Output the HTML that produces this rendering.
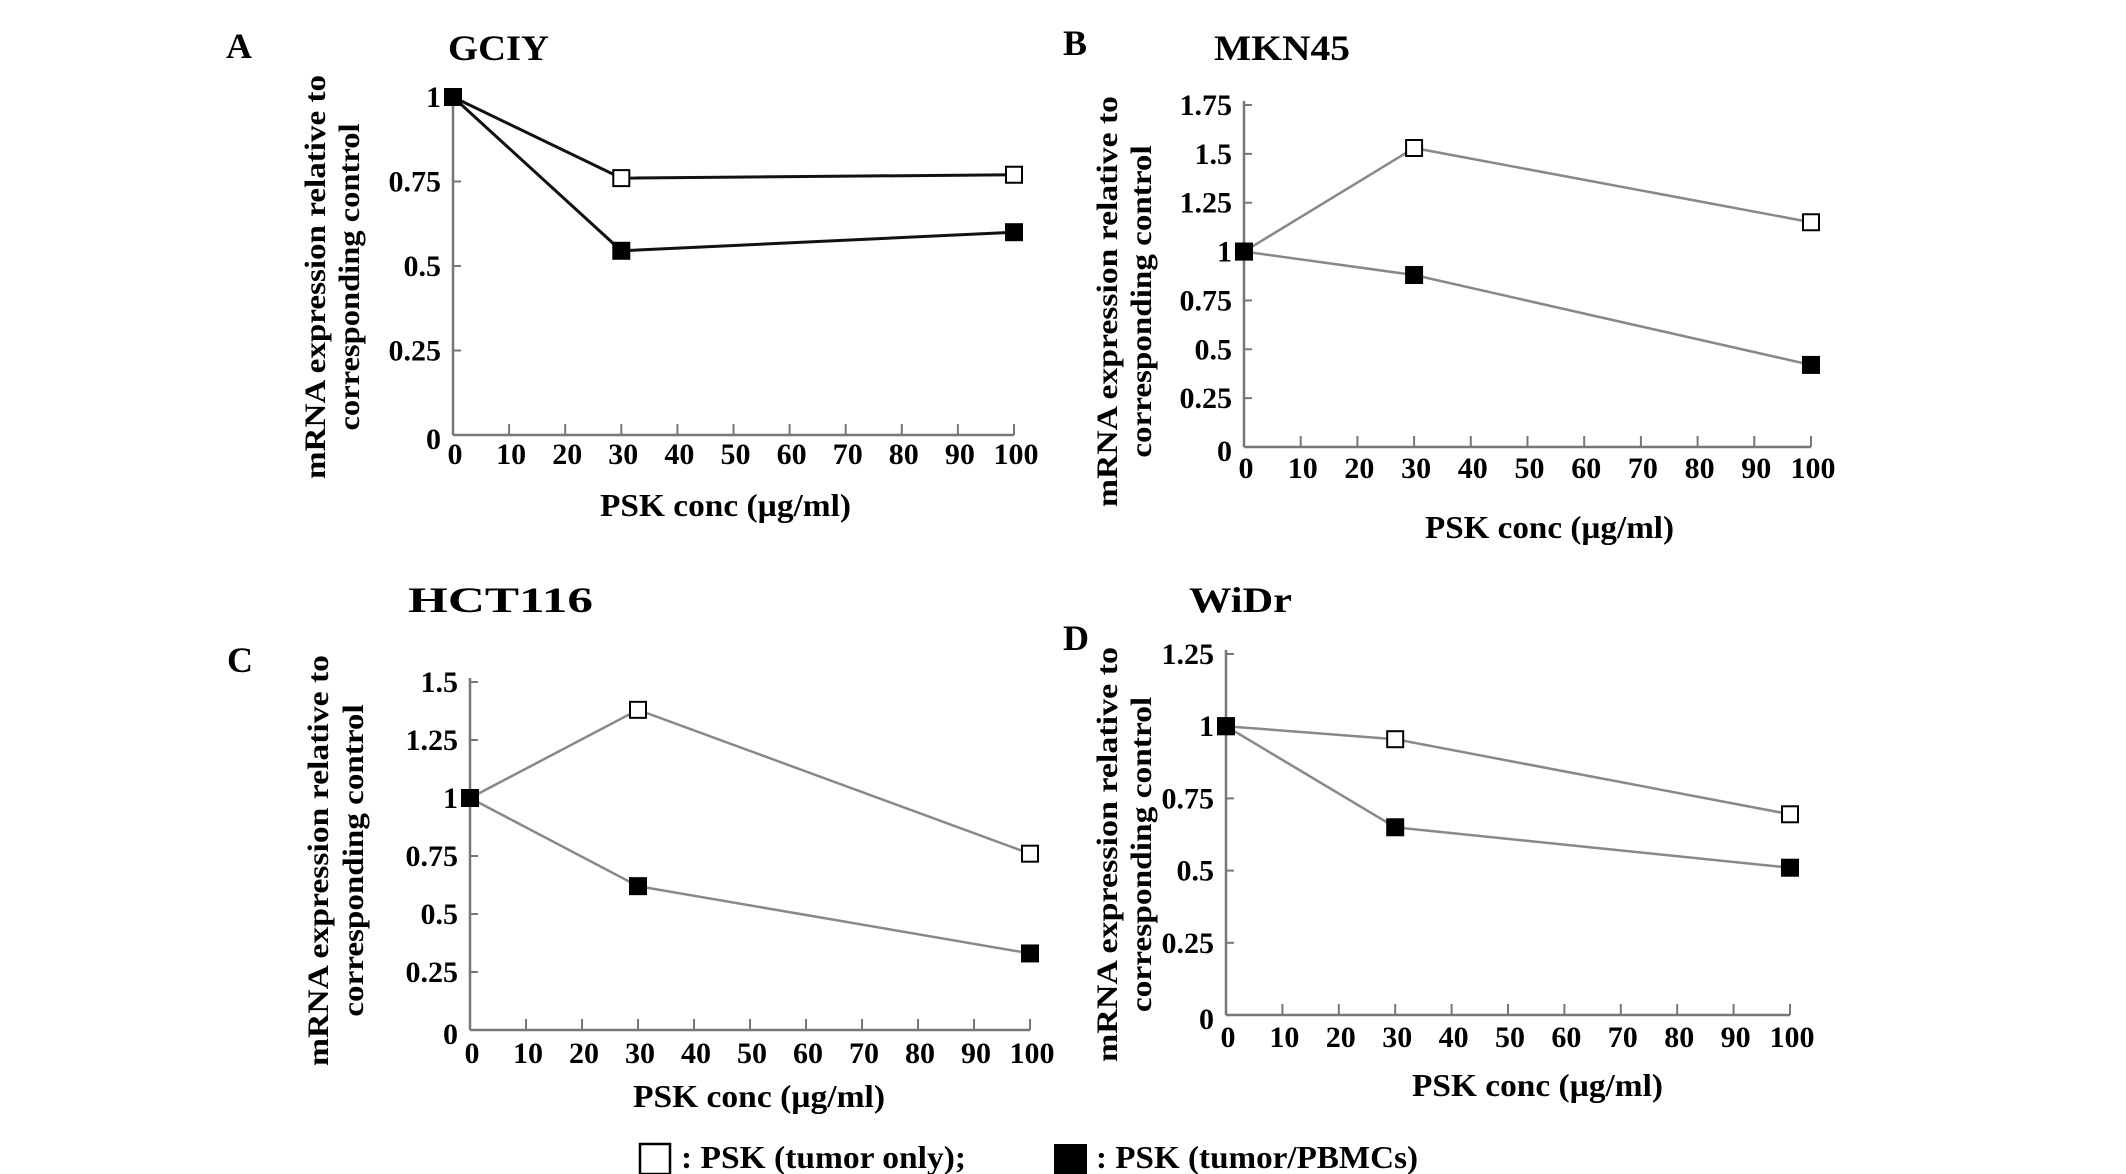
<!DOCTYPE html>
<html><head><meta charset="utf-8"><style>
html,body{margin:0;padding:0;background:#fff;}
svg{display:block;font-family:"Liberation Serif",serif;font-weight:bold;}
</style></head><body>
<svg id="fig" width="2126" height="1174" viewBox="0 0 2126 1174" xmlns="http://www.w3.org/2000/svg">
<rect width="2126" height="1174" fill="#fff"/>
<g>
  <rect x="640" y="1144" width="30" height="30" fill="#fff" stroke="#000" stroke-width="2.5"/>
  <text x="681" y="1168" font-size="32" textLength="285" lengthAdjust="spacingAndGlyphs">: PSK (tumor only);</text>
  <rect x="1054" y="1144" width="33" height="30" fill="#000"/>
  <text x="1096" y="1168" font-size="32" textLength="322" lengthAdjust="spacingAndGlyphs">: PSK (tumor/PBMCs)</text>
</g>
</svg>
<script>
const xCats = [0, 30, 100];
const xTickLabels = ["0","10","20","30","40","50","60","70","80","90","100"];
const openA = [1, 0.76, 0.77];
const filledA = [1, 0.545, 0.60];
const openB = [1, 1.53, 1.15];
const filledB = [1, 0.88, 0.42];
const openC = [1, 1.38, 0.76];
const filledC = [1, 0.62, 0.33];
const openD = [1, 0.955, 0.695];
const filledD = [1, 0.65, 0.51];
const yTicksA = [0, 0.25, 0.5, 0.75, 1];
const yTicksB = [0, 0.25, 0.5, 0.75, 1, 1.25, 1.5, 1.75];
const yTicksC = [0, 0.25, 0.5, 0.75, 1, 1.25, 1.5];
const yTicksD = [0, 0.25, 0.5, 0.75, 1, 1.25];

const NS = "http://www.w3.org/2000/svg";
const svg = document.getElementById('fig');
function mk(tag, attrs, parent) {
  const e = document.createElementNS(NS, tag);
  for (const k in attrs) e.setAttribute(k, attrs[k]);
  parent.appendChild(e);
  return e;
}
const panels = [
  {id:'a', letter:'A', lx:226, ly:58, title:'GCIY', tx:448, ty:60, tw:101, ax:453, ax100:1014, yTop:97, yBot:435, yMax:1, ticks:yTicksA, open:openA, filled:filledA, lineCol:'#111', lw:3, tlb:464, xtx:600, xtw:251, xty:516, yt1:315, yt2:349, ytTop:75, ytBot:479},
  {id:'b', letter:'B', lx:1063, ly:55, title:'MKN45', tx:1214, ty:60, tw:136, ax:1244, ax100:1811, yTop:105, yBot:447, yMax:1.75, ticks:yTicksB, open:openB, filled:filledB, lineCol:'#888', lw:2.5, tlb:478, xtx:1425, xtw:249, xty:538, yt1:1107, yt2:1141, ytTop:96, ytBot:507},
  {id:'c', letter:'C', lx:227, ly:672, title:'HCT116', tx:408, ty:612, tw:185, ax:470, ax100:1030, yTop:682, yBot:1030, yMax:1.5, ticks:yTicksC, open:openC, filled:filledC, lineCol:'#888', lw:2.5, tlb:1063, xtx:633, xtw:252, xty:1107, yt1:318, yt2:353, ytTop:655, ytBot:1066},
  {id:'d', letter:'D', lx:1063, ly:650, title:'WiDr', tx:1189, ty:612, tw:103, ax:1226, ax100:1790, yTop:654, yBot:1015, yMax:1.25, ticks:yTicksD, open:openD, filled:filledD, lineCol:'#888', lw:2.5, tlb:1047, xtx:1412, xtw:251, xty:1096, yt1:1107, yt2:1141, ytTop:647, ytBot:1062}
];
panels.forEach(p => {
  const g = mk('g', {}, svg);
  
  
  const xs = v => p.ax + (p.ax100 - p.ax) * v / 100;
  const ys = v => p.yBot - (p.yBot - p.yTop) * v / p.yMax;
  let t = mk('text', {x:p.lx, y:p.ly, 'font-size':36}, g);
  t.textContent = p.letter;
  
  
  t = mk('text', {x:p.tx, y:p.ty, 'font-size':36, textLength:p.tw, lengthAdjust:'spacingAndGlyphs'}, g);
  t.textContent = p.title;
  
  
  // axes
  let a = mk('line', {x1:p.ax, y1:p.yTop - 4, x2:p.ax, y2:p.yBot, stroke:'#777', 'stroke-width':2.5}, g);
  
  
  a = mk('line', {x1:p.ax, y1:p.yBot, x2:p.ax100, y2:p.yBot, stroke:'#777', 'stroke-width':2.5}, g);
  
  
  xTickLabels.forEach((lab, i) => {
    const v = i * 10, x = xs(v);
    const tk = mk('line', {x1:x, y1:p.yBot, x2:x, y2:p.yBot - 11, stroke:'#777', 'stroke-width':2}, g);
    
    
    const tl = mk('text', {x:x + 2, y:p.tlb, 'font-size':30, 'text-anchor':'middle'}, g);
    tl.textContent = lab;
    
    
  });
  p.ticks.forEach(v => {
    const y = ys(v);
    const tk = mk('line', {x1:p.ax, y1:y, x2:p.ax + 8, y2:y, stroke:'#777', 'stroke-width':2}, g);
    
    
    const tl = mk('text', {x:p.ax - 12, y:y + 10 + (v === 0 ? 4 : 0), 'font-size':30, 'text-anchor':'end'}, g);
    tl.textContent = String(v);
    
    
  });
  // axis titles
  t = mk('text', {x:p.xtx, y:p.xty, 'font-size':32, textLength:p.xtw, lengthAdjust:'spacingAndGlyphs'}, g);
  t.textContent = 'PSK conc (µg/ml)';
  
  
  const mid = (p.ytTop + p.ytBot) / 2;
  t = mk('text', {x:0, y:0, 'font-size':30, 'text-anchor':'middle', transform:'translate(' + (p.yt1 + 10) + ',' + mid + ') rotate(-90)', textLength:(p.ytBot - p.ytTop), lengthAdjust:'spacingAndGlyphs'}, g);
  t.textContent = 'mRNA expression relative to';
  
  
  t = mk('text', {x:0, y:0, 'font-size':30, 'text-anchor':'middle', transform:'translate(' + (p.yt2 + 10) + ',' + mid + ') rotate(-90)', textLength:(p.ytBot - p.ytTop) * 0.76, lengthAdjust:'spacingAndGlyphs'}, g);
  t.textContent = 'corresponding control';
  
  
  // series
  [['open', p.open, '#fff'], ['filled', p.filled, '#000']].forEach(([nm, vals, fill]) => {
    const pts = vals.map((v, i) => xs(xCats[i]) + ',' + ys(v)).join(' ');
    const pl = mk('polyline', {points:pts, fill:'none', stroke:p.lineCol, 'stroke-width':p.lw}, g);
    
    
  });
  [['open', p.open, '#fff'], ['filled', p.filled, '#000']].forEach(([nm, vals, fill]) => {
    vals.forEach((v, i) => {
      const m = mk('rect', {x:xs(xCats[i]) - 8, y:ys(v) - 8, width:16, height:16, fill:fill, stroke:'#000', 'stroke-width':2}, g);
      
      
    });
  });
});
</script>
</body></html>
